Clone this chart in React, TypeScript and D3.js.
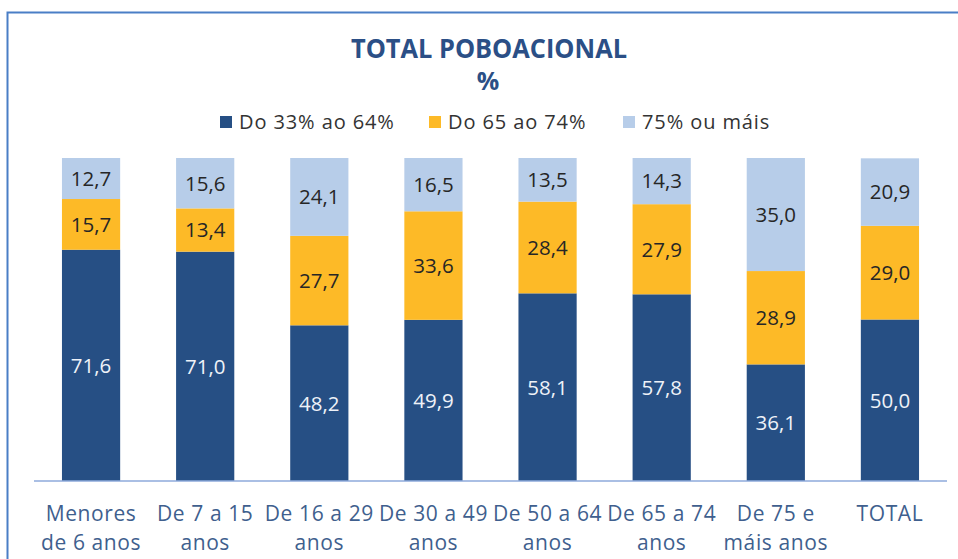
import React from "react";
import * as d3 from "d3";

const categories: string[][] = [
  ["Menores", "de 6 anos"],
  ["De 7 a 15", "anos"],
  ["De 16 a 29", "anos"],
  ["De 30 a 49", "anos"],
  ["De 50 a 64", "anos"],
  ["De 65 a 74", "anos"],
  ["De 75 e", "máis anos"],
  ["TOTAL"],
];
const seriesNames = ["Do 33% ao 64%", "Do 65 ao 74%", "75% ou máis"];
const serieLow = [71.6, 71.0, 48.2, 49.9, 58.1, 57.8, 36.1, 50.0];
const serieMid = [15.7, 13.4, 27.7, 33.6, 28.4, 27.9, 28.9, 29.0];
const serieHigh = [12.7, 15.6, 24.1, 16.5, 13.5, 14.3, 35.0, 20.9];
const yDomain = [0, 100];

const colors = ["#264f84", "#fdba27", "#b7cde9"];
const labelColors = ["#eef2f8", "#262626", "#262626"];
const FONT = "'Open Sans', 'DejaVu Sans', sans-serif";

export default function App() {
  const W = 958, H = 559;
  const keys = categories.map((c) => c.join(" "));
  const x = d3.scaleBand<string>().domain(keys).range([34, 947]).paddingInner(0.49).paddingOuter(0.245);
  const y = d3.scaleLinear().domain(yDomain).range([481, 158]);
  const rows = keys.map((k, i) => ({ key: k, low: serieLow[i], mid: serieMid[i], high: serieHigh[i] }));
  const stack = d3.stack<any>().keys(["low", "mid", "high"])(rows);
  const fmt = (v: number) => v.toFixed(1).replace(".", ",");
  const legendX = [220, 429, 623];

  return (
    <svg width={W} height={H} style={{ position: "absolute", left: 0, top: 0, background: "#fff" }}>
      <rect x={0} y={0} width={W} height={H} fill="#fff" />
      <path d={`M7.5,${H} L7.5,12.5 L${W},12.5`} fill="none" stroke="#4a7ec6" strokeWidth={2} />
      <text x={489} y={58} textAnchor="middle" fontFamily={FONT} fontWeight={700} fontSize={27}
        fill="#2b4f86" textLength={276} lengthAdjust="spacingAndGlyphs">TOTAL POBOACIONAL</text>
      <text x={488} y={90} textAnchor="middle" fontFamily={FONT} fontWeight={700} fontSize={25} fill="#2b4f86">%</text>
      {seriesNames.map((n, i) => (
        <g key={n}>
          <rect x={legendX[i]} y={116} width={12} height={12} fill={colors[i]} />
          <text x={legendX[i] + 19} y={129} fontFamily={FONT} fontSize={20} fill="#333" letterSpacing={0.9}>{n}</text>
        </g>
      ))}
      {stack.map((layer, si) => (
        <g key={si}>
          {layer.map((d, i) => {
            const x0 = x(keys[i])!;
            const yTop = y(d[1]);
            const yBot = y(d[0]);
            return (
              <g key={i}>
                <rect x={x0} y={yTop} width={x.bandwidth()} height={yBot - yTop} fill={colors[si]} />
                <text x={x0 + x.bandwidth() / 2} y={(yTop + yBot) / 2} dy="0.36em" textAnchor="middle"
                  fontFamily={FONT} fontSize={20.5} fill={labelColors[si]}>{fmt(d[1] - d[0])}</text>
              </g>
            );
          })}
        </g>
      ))}
      <line x1={34} x2={947} y1={481} y2={481} stroke="#8eaadb" strokeWidth={1.5} />
      {categories.map((lines, i) => (
        <text key={i} x={x(keys[i])! + x.bandwidth() / 2} textAnchor="middle" fontFamily={FONT}
          fontSize={21} fill="#3f5f8e" letterSpacing={0.6}>
          {lines.map((l, j) => (
            <tspan key={j} x={x(keys[i])! + x.bandwidth() / 2} y={521 + j * 29}>{l}</tspan>
          ))}
        </text>
      ))}
    </svg>
  );
}
